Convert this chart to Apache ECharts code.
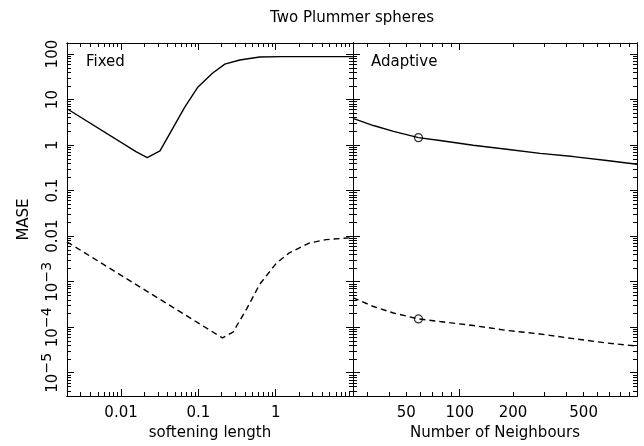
<!DOCTYPE html>
<html><head><meta charset="utf-8">
<script src="https://cdn.jsdelivr.net/npm/echarts@6/dist/echarts.min.js"></script>
<style>html,body{margin:0;padding:0;background:#fff}#c{width:644px;height:446px}</style>
</head><body><div id="c"></div>
<script>
// ---- data ----
const fixedEps   = [0.002, 0.0156, 0.0218, 0.0319, 0.067, 0.099, 0.152, 0.22, 0.343, 0.62, 1.2, 10];
const fixedSolid = [6.3, 0.72, 0.53, 0.75, 6.9, 19, 38, 60, 74, 86, 88, 88];
const fixedDashEps = [0.002, 0.205, 0.281, 0.42, 0.62, 1.02, 1.5, 2.75, 4.5, 10];
const fixedDash    = [0.0075, 5.8e-5, 7.8e-5, 2.5e-4, 8.7e-4, 2.55e-3, 4.3e-3, 7.1e-3, 8.4e-3, 9.3e-3];
const adaptN     = [25, 32.6, 42.3, 58.5, 77.4, 119, 184, 284, 437, 675, 1000];
const adaptSolid = [3.88, 2.69, 2.0, 1.46, 1.26, 0.99, 0.81, 0.66, 0.56, 0.46, 0.38];
const adaptDash  = [4.46e-4, 2.85e-4, 2.05e-4, 1.52e-4, 1.33e-4, 1.09e-4, 8.5e-5, 7.1e-5, 5.6e-5, 4.5e-5, 3.84e-5];
const markerN = [58.5];
const markerSolid = [1.46];
const markerDash = [1.52e-4];
const yTickLabels = [1e-5, 1e-4, 1e-3, 0.01, 0.1, 1, 10, 100];
const epsTickLabels = [0.01, 0.1, 1];
const nTickLabels = [50, 100, 200, 500];
const epsMajor = [0.01, 0.1, 1];
const nMajor = [100];
const yRange = [3.08e-6, 175];
const epsRange = [0.002, 10];
const nRange = [25, 1000];

// ---- helpers ----
function logMinors(lo, hi) {
  const out = [];
  for (let d = -7; d <= 4; d++) for (let k = 2; k <= 9; k++) {
    const v = +(k * Math.pow(10, d)).toPrecision(6);
    if (v > lo && v < hi) out.push(v);
  }
  return out;
}
const yMajor = yTickLabels;
const yMinor = logMinors(yRange[0], yRange[1]);
const epsMinor = logMinors(epsRange[0], epsRange[1]);
const nMinor = logMinors(nRange[0], nRange[1]);

const FONT = 'DejaVu Sans';
const BLACK = '#000';
const MAJ = 7, MIN = 4;

function axis(grid, pos, range, ticks, len, labelCfg, extra) {
  return Object.assign({
    type: 'log', logBase: 10, gridIndex: grid, position: pos, min: range[0], max: range[1],
    axisLine: {show: true, onZero: false, lineStyle: {color: BLACK, width: 1}},
    axisTick: {show: true, inside: true, length: len, customValues: ticks, lineStyle: {color: BLACK, width: 1}},
    axisLabel: labelCfg || {show: false},
    splitLine: {show: false}, minorTick: {show: false}, minorSplitLine: {show: false},
    axisPointer: {show: false}
  }, extra || {});
}

const xLabel = (vals) => ({
  show: true, customValues: vals, margin: 10, color: BLACK, fontFamily: FONT, fontSize: 15,
  formatter: v => String(+v.toPrecision(6))
});
const yLabel = {
  show: true, customValues: yTickLabels, rotate: 90, margin: 9, color: BLACK,
  formatter: v => {
    const e = Math.round(Math.log10(v));
    if (e >= -2) return '{b|' + String(+v.toPrecision(6)) + '}';
    return '{p| }{s|\u2212' + (-e) + '}\n{t|10}{q| }';
  },
  rich: {
    b: {fontFamily: FONT, fontSize: 15, color: BLACK, lineHeight: 10},
    t: {fontFamily: FONT, fontSize: 15, color: BLACK, lineHeight: 10, width: 19, align: 'left'},
    p: {fontFamily: FONT, fontSize: 14, color: BLACK, lineHeight: 2, width: 19},
    s: {fontFamily: FONT, fontSize: 14, color: BLACK, lineHeight: 2, width: 21, align: 'left'},
    q: {fontFamily: FONT, fontSize: 15, color: BLACK, lineHeight: 10, width: 21}
  }
};
const nameStyle = {color: BLACK, fontFamily: FONT, fontSize: 15};

const xAxes = [
  axis(0, 'bottom', epsRange, epsMajor, MAJ, xLabel(epsTickLabels),
       {name: 'softening length', nameLocation: 'middle', nameGap: 30, nameTextStyle: nameStyle}),
  axis(0, 'bottom', epsRange, epsMinor, MIN),
  axis(0, 'top', epsRange, epsMajor, MAJ),
  axis(0, 'top', epsRange, epsMinor, MIN),
  axis(1, 'bottom', nRange, nMajor, MAJ, xLabel(nTickLabels),
       {name: 'Number of Neighbours', nameLocation: 'middle', nameGap: 30, nameTextStyle: nameStyle}),
  axis(1, 'bottom', nRange, nMinor, MIN),
  axis(1, 'top', nRange, nMajor, MAJ),
  axis(1, 'top', nRange, nMinor, MIN)
];
const yAxes = [
  axis(0, 'left', yRange, yMajor, MAJ, yLabel,
       {name: 'MASE', nameLocation: 'middle', nameRotate: 90, nameGap: 35, nameTextStyle: nameStyle}),
  axis(0, 'left', yRange, yMinor, MIN),
  axis(0, 'right', yRange, yMajor, MAJ),
  axis(0, 'right', yRange, yMinor, MIN),
  axis(1, 'left', yRange, yMajor, MAJ),
  axis(1, 'left', yRange, yMinor, MIN),
  axis(1, 'right', yRange, yMajor, MAJ),
  axis(1, 'right', yRange, yMinor, MIN)
];

const zip = (xs, ys) => xs.map((x, i) => [x, ys[i]]);
const lineS = (xi, yi, xs, ys, dashed) => ({
  type: 'line', xAxisIndex: xi, yAxisIndex: yi, data: zip(xs, ys),
  symbol: 'none', smooth: false, silent: true, z: 3,
  lineStyle: {color: BLACK, width: 1.4, type: dashed ? [6, 4] : 'solid'}
});
const markS = (xi, yi, xs, ys) => ({
  type: 'scatter', xAxisIndex: xi, yAxisIndex: yi, data: zip(xs, ys),
  symbol: 'circle', symbolSize: 8, silent: true, z: 4,
  itemStyle: {color: 'rgba(255,255,255,0)', borderColor: BLACK, borderWidth: 1.2}
});

const option = {
  animation: false,
  backgroundColor: '#fff',
  title: [
    {text: 'Two Plummer spheres', left: 352, top: 11, textAlign: 'center', padding: 0,
     textStyle: {fontFamily: FONT, fontSize: 15, fontWeight: 'normal', color: BLACK}},
    {text: 'Fixed', left: 86, top: 55, padding: 0,
     textStyle: {fontFamily: FONT, fontSize: 15, fontWeight: 'normal', color: BLACK}},
    {text: 'Adaptive', left: 371, top: 55, padding: 0,
     textStyle: {fontFamily: FONT, fontSize: 15, fontWeight: 'normal', color: BLACK}}
  ],
  grid: [
    {left: 67, top: 43, width: 286, height: 359, containLabel: false},
    {left: 353, top: 43, width: 284, height: 359, containLabel: false}
  ],
  xAxis: xAxes,
  yAxis: yAxes,
  series: [
    lineS(0, 0, fixedEps, fixedSolid, false),
    lineS(0, 0, fixedDashEps, fixedDash, true),
    lineS(4, 4, adaptN, adaptSolid, false),
    lineS(4, 4, adaptN, adaptDash, true),
    markS(4, 4, markerN, markerSolid),
    markS(4, 4, markerN, markerDash)
  ]
};
const chart = echarts.init(document.getElementById('c'), null, {renderer: 'canvas'});
chart.setOption(option);
</script>
</body></html>
